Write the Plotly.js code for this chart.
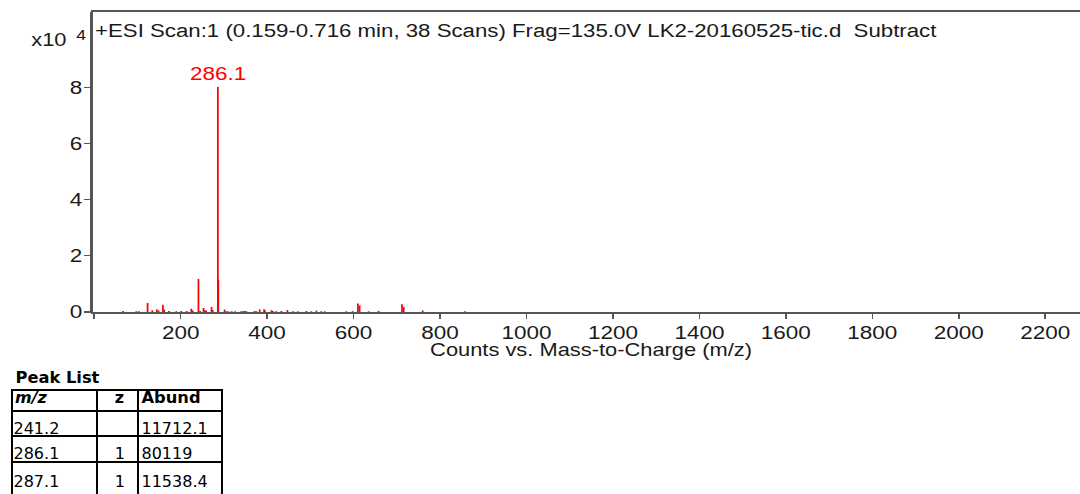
<!DOCTYPE html>
<html>
<head>
<meta charset="utf-8">
<script src="https://cdn.plot.ly/plotly-3.0.1.min.js"></script>
<style>
  html, body { margin: 0; padding: 0; background: #fff; width: 1080px; height: 494px; overflow: hidden; }
  #wrap { position: absolute; left: 0; top: 0; width: 880px; height: 494px; transform: scaleX(1.25); transform-origin: 0 0; }
  #chart { width: 880px; height: 494px; }
  .pl { position: absolute; font-family: 'DejaVu Sans', sans-serif; font-size: 16px; line-height: 16px; color: #000; white-space: nowrap; }
  .b { font-weight: bold; }
  .hl { position: absolute; background: #000; height: 2px; }
  .vl { position: absolute; background: #000; width: 2px; }
</style>
</head>
<body>
<div id="wrap"><div id="chart"></div></div>
<div id="table"></div>
<script>
// ---- data ----
const mz = [66.5, 97.4, 103.5, 123.5, 134.4, 145, 149, 159, 162, 173, 190, 201, 214, 224.6, 228,
  241.2, 245, 253, 256, 259, 271.5, 274, 286.1, 287.1, 301.6, 305, 310, 318, 326, 340, 345, 349, 352,
  371, 375, 383, 393, 395, 410, 413, 421, 433, 447, 460, 471, 491, 502, 514, 525, 533, 583, 598,
  610, 614, 635, 658, 712, 716, 760, 858];
const abund = [350, 250, 250, 3200, 600, 950, 500, 2600, 900, 350, 250, 350, 350, 1200, 500,
  11712.1, 350, 1400, 600, 500, 1800, 700, 80119, 11538.4, 900, 300, 250, 250, 250, 250, 350, 400, 300,
  350, 300, 950, 950, 600, 600, 400, 300, 350, 700, 250, 250, 350, 250, 500, 250, 250, 250, 300,
  3000, 2300, 250, 400, 2800, 1800, 550, 300];
const xTickVals = [0, 200, 400, 600, 800, 1000, 1200, 1400, 1600, 1800, 2000, 2200];
const xTickText = ['', '200', '400', '600', '800', '1000', '1200', '1400', '1600', '1800', '2000', '2200'];
const yTickVals = [0, 20000, 40000, 60000, 80000];
const yTickText = ['0', '2', '4', '6', '8'];
const titleText = '+ESI Scan:1 (0.159-0.716 min, 38 Scans) Frag=135.0V LK2-20160525-tic.d\u00a0 Subtract';
const xTitle = 'Counts vs. Mass-to-Charge (m/z)';
const labelPeak = 286.1;
const labelAbund = 80119;

const peakMz = ['241.2', '286.1', '287.1'];
const peakZ = ['', '1', '1'];
const peakAbund = ['11712.1', '80119', '11538.4'];

// ---- sticks ----
const xs = [], ys = [];
for (let i = 0; i < mz.length; i++) {
  xs.push(mz[i], mz[i], null);
  ys.push(0, abund[i], null);
}

const axisCommon = {
  ticks: 'outside', ticklen: 5, tickwidth: 1.2, tickcolor: '#555',
  showline: true, linecolor: '#555', mirror: true,
  showgrid: false, zeroline: false,
  tickfont: { size: 18, color: '#1a1a1a' }
};

const layout = {
  width: 880, height: 494,
  margin: { l: 73.6, r: 8, t: 12, b: 182 },
  paper_bgcolor: '#fff', plot_bgcolor: '#fff',
  font: { family: 'Liberation Sans, Arial, sans-serif', color: '#1a1a1a' },
  showlegend: false,
  xaxis: Object.assign({}, axisCommon, {
    range: [-3.9, 2303.6], tickmode: 'array', tickvals: xTickVals, ticktext: xTickText,
    linewidth: 2, ticklabelstandoff: -2
  }),
  yaxis: Object.assign({}, axisCommon, {
    range: [0, 106800], tickmode: 'array', tickvals: yTickVals, ticktext: yTickText,
    linewidth: 1.6, ticklabelstandoff: -2
  }),
  annotations: [
    { text: titleText, xref: 'paper', yref: 'paper', x: 0.0005, y: 0.937, xanchor: 'left', yanchor: 'middle',
      showarrow: false, font: { size: 17.8, color: '#1a1a1a' } },
    { text: String(labelPeak), xref: 'x', yref: 'y', x: labelPeak, y: labelAbund, xanchor: 'center', yanchor: 'bottom',
      showarrow: false, yshift: 1, font: { size: 18, color: '#ff0000' } },
    { text: 'x10', xref: 'paper', yref: 'paper', x: -0.024, y: 0.905, xanchor: 'right', yanchor: 'middle',
      showarrow: false, font: { size: 17.5, color: '#1a1a1a' } },
    { text: '4', xref: 'paper', yref: 'paper', x: -0.019, y: 0.923, xanchor: 'left', yanchor: 'middle',
      showarrow: false, font: { size: 14, color: '#1a1a1a' } },
    { text: xTitle, xref: 'paper', yref: 'paper', x: 0.5, y: (312 - 350) / 300, xanchor: 'center', yanchor: 'middle',
      showarrow: false, font: { size: 17.5, color: '#1a1a1a' } }
  ]
};

const trace = {
  type: 'scatter', mode: 'lines', x: xs, y: ys,
  line: { color: '#ff0000', width: 1.4 }, hoverinfo: 'skip', connectgaps: false
};

Plotly.newPlot('chart', [trace], layout, { displayModeBar: false, staticPlot: true });

// ---- peak list table ----
const tbl = document.getElementById('table');
function add(cls, style, text) {
  const d = document.createElement('div');
  d.className = cls;
  Object.assign(d.style, style);
  if (text !== undefined) d.textContent = text;
  tbl.appendChild(d);
  return d;
}
add('pl b', { left: '15.5px', top: '369.5px', fontSize: '16.3px' }, 'Peak List');
const colX = [11, 96, 137, 221];
const rowY = [389, 410, 435, 461];
rowY.forEach(y => add('hl', { left: '11px', top: y + 'px', width: '212px' }));
colX.forEach(x => add('vl', { left: x + 'px', top: '389px', height: '110px' }));
// header
add('pl b', { left: '15px', top: '389.8px', fontStyle: 'italic' }, 'm/z');
add('pl b', { left: '96px', width: '28px', textAlign: 'right', top: '389.8px' }, 'z');
add('pl b', { left: '141.5px', top: '389.8px', fontSize: '16.3px' }, 'Abund');
const rowTops = [420.5, 445.8, 473.5];
for (let i = 0; i < peakMz.length; i++) {
  add('pl', { left: '13.5px', top: rowTops[i] + 'px' }, peakMz[i]);
  add('pl', { left: '96px', width: '29px', textAlign: 'right', top: rowTops[i] + 'px' }, peakZ[i]);
  add('pl', { left: '141.5px', top: rowTops[i] + 'px' }, peakAbund[i]);
}
</script>
</body>
</html>
